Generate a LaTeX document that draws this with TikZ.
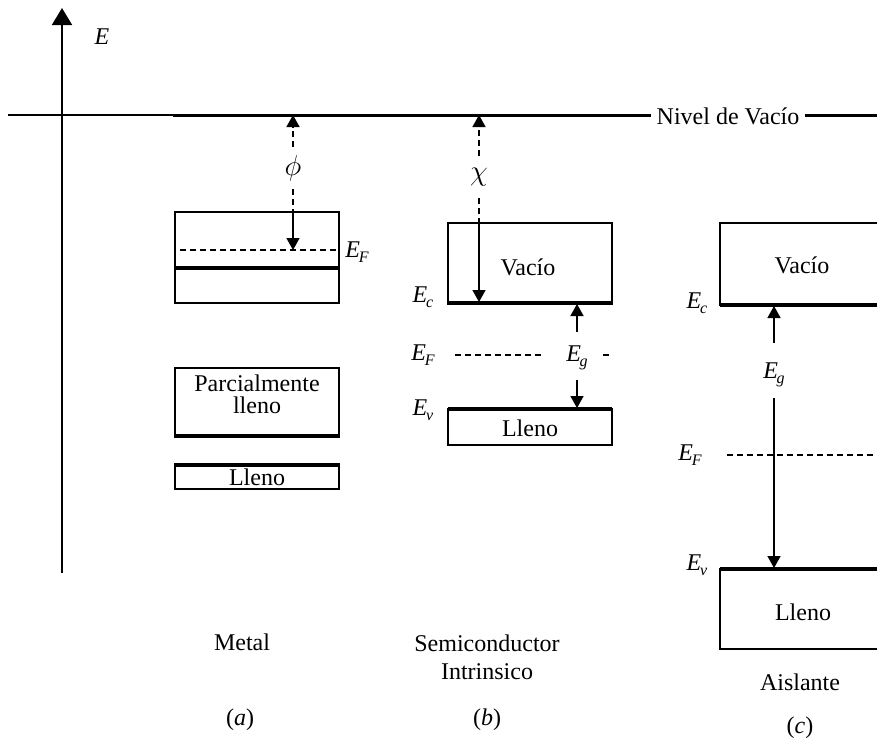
\documentclass[tikz,border=0pt]{standalone}
\usepackage{fontspec}
\setmainfont{Liberation Serif}
\usetikzlibrary{arrows.meta}
\newcommand\En[1]{\textit{E}\kern-0.05em\raisebox{-0.45ex}{\footnotesize\textit{#1}}}
\begin{document}
\begin{tikzpicture}[x=0.5pt,y=-0.5pt,
  thinl/.style={line width=0.8pt},
  thickl/.style={line width=2pt},
  band/.style={line width=0.85pt},
  dl/.style={dash pattern=on 3pt off 2pt, line width=0.7pt},
  tip/.style={-{Triangle[length=6pt,width=6.5pt]}, line width=0.75pt},
  lbl/.style={inner sep=1pt, font=\fontsize{12}{14}\selectfont},
  grk/.style={inner sep=1pt, font=\fontsize{14}{16}\selectfont}]
\useasboundingbox (0,0) rectangle (877,744);

% energy axis
\coordinate (ax0) at (62,573);
\coordinate (ax1) at (62,8);
\draw[line width=0.85pt,-{Triangle[length=8.5pt,width=10pt]}] (ax0) -- (ax1);
\node[lbl] (Elab) at (102,37) {\textit{E}};

% vacuum level
\coordinate (vl0) at (8,115);
\coordinate (vl1) at (173,115);
\coordinate (vl2) at (877,115);
\draw[thinl] (vl0) -- (vl1);
\draw[line width=1.5pt] (vl1) -- (vl2);
\node[lbl, fill=white, inner sep=3pt] (nivel) at (728,116) {Nivel de Vacío};

% ---------------- (a) Metal
\draw[band] (175,212) rectangle (339,303);
\draw[thickl] (175,268) -- (339,268);
\draw[dl] (180,250) -- (339,250);
\node[lbl, anchor=west] (EFa) at (343,252) {\En{F}};
\coordinate (phiTop) at (293,115);
\coordinate (phiIn) at (293,212);
\coordinate (phiBot) at (293,250);
\node[grk] (phi) at (293,168) {$\phi$};
\draw[dl, tip, shorten <=3pt] (phi.north) -- (phiTop);
\draw[dl, shorten <=3pt] (phi.south) -- (phiIn);
\draw[tip] (phiIn) -- (phiBot);

\draw[band] (175,368) rectangle (339,437);
\draw[thickl] (175,436) -- (339,436);
\node[lbl, align=center] (parc) at (257,394) {Parcialmente\\[-3pt]lleno};

\draw[band] (175,464) rectangle (339,489);
\draw[thickl] (175,465) -- (339,465);
\node[lbl] (llenoa) at (257,477) {Lleno};

\node[lbl] (metal) at (242,642) {Metal};
\node[lbl] (capa) at (240,720) {(\textit{a})};

% ---------------- (b) Semiconductor
\draw[band] (448,223) rectangle (612,304);
\draw[thickl] (448,303) -- (612,303);
\node[lbl] (vacb) at (528,267) {Vacío};
\node[lbl] (Ecb) at (423,297) {\En{c}};
\coordinate (chiTop) at (479,115);
\coordinate (chiIn) at (479,223);
\coordinate (chiBot) at (479,302);
\node[grk] (chi) at (479,177) {$\chi$};
\draw[dl, tip, shorten <=5pt] (chi.north) -- (chiTop);
\draw[dl, shorten <=5pt] (chi.south) -- (chiIn);
\draw[tip] (chiIn) -- (chiBot);

\node[lbl] (EFb) at (423,355) {\En{F}};
\coordinate (efb0) at (455,355);
\coordinate (efb1) at (541,355);
\coordinate (efb2) at (603,355);
\coordinate (efb3) at (612,355);
\draw[dl] (efb0) -- (efb1);
\draw[dl] (efb2) -- (efb3);
\node[lbl] (Egb) at (577,358) {\En{g}};
\coordinate (egbU) at (577,332);
\coordinate (egbC) at (577,304);
\coordinate (egbD) at (577,380);
\coordinate (egbV) at (577,408);
\draw[tip] (egbU) -- (egbC);
\draw[tip] (egbD) -- (egbV);

\node[lbl] (Evb) at (423,410) {\En{v}};
\draw[band] (448,409) rectangle (612,445);
\draw[thickl] (448,409) -- (612,409);
\node[lbl] (llenob) at (530,428) {Lleno};

\node[lbl, align=center] (semi) at (487,657) {Semiconductor\\Intrinsico};
\node[lbl] (capb) at (487,720) {(\textit{b})};

% ---------------- (c) Aislante
\draw[band] (877,223) -- (720,223) -- (720,305) -- (877,305);
\draw[thickl] (720,305) -- (877,305);
\node[lbl] (vacc) at (802,265) {Vacío};
\node[lbl] (Ecc) at (697,303) {\En{c}};
\node[lbl] (Egc) at (774,375) {\En{g}};
\coordinate (egcU) at (774,343);
\coordinate (egcC) at (774,306);
\coordinate (egcD) at (774,398);
\coordinate (egcV) at (774,568);
\draw[tip] (egcU) -- (egcC);
\draw[tip] (egcD) -- (egcV);

\node[lbl] (EFc) at (690,455) {\En{F}};
\coordinate (efc0) at (727,455);
\coordinate (efc1) at (877,455);
\draw[dl] (efc0) -- (efc1);

\node[lbl] (Evc) at (697,565) {\En{v}};
\draw[band] (877,569) -- (720,569) -- (720,649) -- (877,649);
\draw[thickl] (720,569) -- (877,569);
\node[lbl] (llenoc) at (803,612) {Lleno};

\node[lbl] (aisl) at (800,682) {Aislante};
\node[lbl] (capc) at (800,728) {(\textit{c})};
\end{tikzpicture}
\end{document}
